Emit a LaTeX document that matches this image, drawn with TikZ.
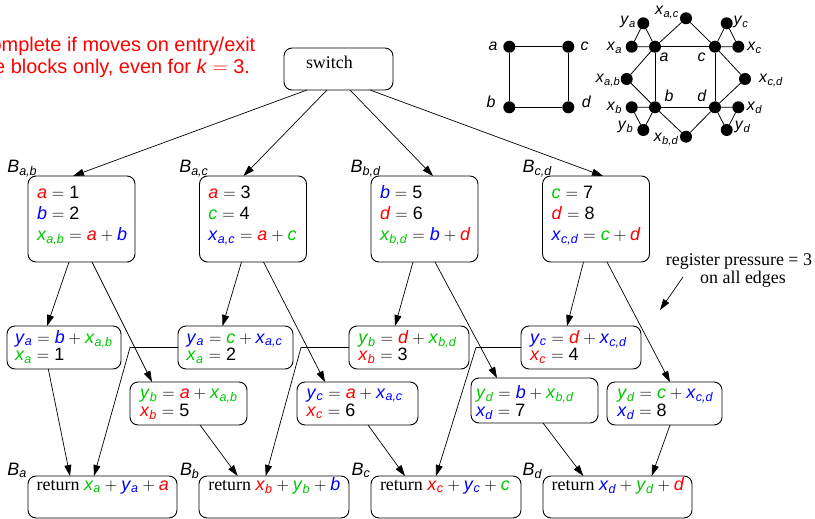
\documentclass[tikz,border=0pt]{standalone}
\usepackage{fontspec}
\setmainfont{Liberation Serif}
\setsansfont{Liberation Sans}
\usetikzlibrary{arrows.meta}

\definecolor{vred}{RGB}{255,0,0}
\definecolor{vgreen}{RGB}{0,200,0}
\definecolor{vblue}{RGB}{0,0,255}

% coloured variables: plain and subscripted
\newcommand\vs[2]{\textcolor{#1}{\textit{#2}}}
\newcommand\vx[3]{\textcolor{#1}{\textit{#2}\textsubscript{\itshape #3}}}
\newcommand\EQ{\hspace{.28em}$=$\hspace{.28em}}
\newcommand\PL{\hspace{.22em}$+$\hspace{.22em}}

\tikzset{
  blk/.style={draw, rounded corners=8bp, line width=0.9pt, inner sep=0pt, outer sep=0pt},
  tx/.style={anchor=base west, inner sep=0pt, outer sep=0pt, font=\sffamily\fontsize{18}{21}\selectfont},
  rtx/.style={anchor=base west, inner sep=0pt, outer sep=0pt, font=\rmfamily\fontsize{18}{21}\selectfont},
  redtx/.style={anchor=base east, inner sep=0pt, outer sep=0pt, text=vred, font=\sffamily\fontsize{20}{22}\selectfont},
  arr/.style={line width=0.7pt, -{Triangle[length=11bp,width=7bp]}},
  gv/.style={circle, fill=black, minimum size=12bp, inner sep=0pt, outer sep=0pt},
  gl/.style={anchor=base, inner sep=0pt, outer sep=0pt, font=\sffamily\fontsize{16}{18}\selectfont},
  ge/.style={line width=0.8pt},
}

\begin{document}
\begin{tikzpicture}[x=1bp,y=-1bp]
\useasboundingbox (0,0) rectangle (815,519);
\clip (0,0) rectangle (815,519);

% ---- caption ----
\node[redtx] (cap1) at (255.3,51.7) {complete if moves on entry/exit};
\node[redtx] (cap2) at (250,73.3) {the blocks only, even for \textit{k}\EQ 3.};

% ---- switch ----
\node[blk, minimum width=109bp, minimum height=42bp] (sw) at (338.5,69) {};
\node[rtx] (swt) at (306,68.3) {switch};

% ---- entry blocks ----
\node[blk, minimum width=107bp, minimum height=86bp] (bab) at (81.5,219) {};
\node[blk, minimum width=107bp, minimum height=86bp] (bac) at (253,219) {};
\node[blk, minimum width=107bp, minimum height=86bp] (bbd) at (424.5,219) {};
\node[blk, minimum width=107bp, minimum height=86bp] (bcd) at (596,219) {};

\node[tx] (lab) at (7.3,172.7) {\vx{black}{B}{a,b}};
\node[tx] (lac) at (179.3,172.7) {\vx{black}{B}{a,c}};
\node[tx] (lbd) at (350.7,172.7) {\vx{black}{B}{b,d}};
\node[tx] (lcd) at (522.7,172.7) {\vx{black}{B}{c,d}};

\node[tx] (ab1) at (37,198.5) {\vs{vred}{a}\EQ 1};
\node[tx] (ab2) at (37,219.5) {\vs{vblue}{b}\EQ 2};
\node[tx] (ab3) at (37,240.5) {\vx{vgreen}{x}{a,b}\EQ\vs{vred}{a}\PL\vs{vblue}{b}};

\node[tx] (ac1) at (208.3,198.5) {\vs{vred}{a}\EQ 3};
\node[tx] (ac2) at (208.3,219.5) {\vs{vgreen}{c}\EQ 4};
\node[tx] (ac3) at (208.3,240.5) {\vx{vblue}{x}{a,c}\EQ\vs{vred}{a}\PL\vs{vgreen}{c}};

\node[tx] (bd1) at (380,198.5) {\vs{vblue}{b}\EQ 5};
\node[tx] (bd2) at (380,219.5) {\vs{vred}{d}\EQ 6};
\node[tx] (bd3) at (380,240.5) {\vx{vgreen}{x}{b,d}\EQ\vs{vblue}{b}\PL\vs{vred}{d}};

\node[tx] (cd1) at (551.7,198.5) {\vs{vgreen}{c}\EQ 7};
\node[tx] (cd2) at (551.7,219.5) {\vs{vred}{d}\EQ 8};
\node[tx] (cd3) at (551.7,240.5) {\vx{vblue}{x}{c,d}\EQ\vs{vgreen}{c}\PL\vs{vred}{d}};

% ---- middle blocks ----
\node[blk, minimum width=114bp, minimum height=43bp] (m1) at (64,347.5) {};
\node[blk, minimum width=115bp, minimum height=43bp] (m2) at (235.5,347.5) {};
\node[blk, minimum width=120bp, minimum height=43bp] (m3) at (409,347.5) {};
\node[blk, minimum width=120bp, minimum height=43bp] (m4) at (581,347.5) {};
\node[blk, minimum width=117bp, minimum height=43bp] (m5) at (188.5,403.5) {};
\node[blk, minimum width=121bp, minimum height=43bp] (m6) at (357.5,403.5) {};
\node[blk, minimum width=127bp, minimum height=45bp] (m7) at (534.5,400.5) {};
\node[blk, minimum width=115bp, minimum height=43bp] (m8) at (664.5,403.5) {};

\node[tx] (m1a) at (15,343.3) {\vx{vblue}{y}{a}\EQ\vs{vblue}{b}\PL\vx{vgreen}{x}{a,b}};
\node[tx] (m1b) at (15,360.5) {\vx{vgreen}{x}{a}\EQ 1};
\node[tx] (m2a) at (186.7,343.3) {\vx{vblue}{y}{a}\EQ\vs{vgreen}{c}\PL\vx{vblue}{x}{a,c}};
\node[tx] (m2b) at (186.7,360.5) {\vx{vgreen}{x}{a}\EQ 2};
\node[tx] (m3a) at (358.3,343.3) {\vx{vgreen}{y}{b}\EQ\vs{vred}{d}\PL\vx{vgreen}{x}{b,d}};
\node[tx] (m3b) at (358.3,360.5) {\vx{vred}{x}{b}\EQ 3};
\node[tx] (m4a) at (530,343.3) {\vx{vblue}{y}{c}\EQ\vs{vred}{d}\PL\vx{vblue}{x}{c,d}};
\node[tx] (m4b) at (530,360.5) {\vx{vred}{x}{c}\EQ 4};
\node[tx] (m5a) at (140,398) {\vx{vgreen}{y}{b}\EQ\vs{vred}{a}\PL\vx{vgreen}{x}{a,b}};
\node[tx] (m5b) at (140,416) {\vx{vred}{x}{b}\EQ 5};
\node[tx] (m6a) at (306.7,398) {\vx{vblue}{y}{c}\EQ\vs{vred}{a}\PL\vx{vblue}{x}{a,c}};
\node[tx] (m6b) at (306.7,416) {\vx{vred}{x}{c}\EQ 6};
\node[tx] (m7a) at (476,398) {\vx{vgreen}{y}{d}\EQ\vs{vblue}{b}\PL\vx{vgreen}{x}{b,d}};
\node[tx] (m7b) at (476,416) {\vx{vblue}{x}{d}\EQ 7};
\node[tx] (m8a) at (617.3,398) {\vx{vgreen}{y}{d}\EQ\vs{vgreen}{c}\PL\vx{vblue}{x}{c,d}};
\node[tx] (m8b) at (617.3,416) {\vx{vblue}{x}{d}\EQ 8};

% ---- exit blocks ----
\node[blk, minimum width=149bp, minimum height=42bp] (ra) at (102.5,497) {};
\node[blk, minimum width=150bp, minimum height=42bp] (rb) at (274,497) {};
\node[blk, minimum width=150bp, minimum height=42bp] (rc) at (446,497) {};
\node[blk, minimum width=149bp, minimum height=42bp] (rd) at (617.5,497) {};

\node[tx] (lra) at (7.3,475) {\vx{black}{B}{a}};
\node[tx] (lrb) at (180,475) {\vx{black}{B}{b}};
\node[tx] (lrc) at (351.7,475) {\vx{black}{B}{c}};
\node[tx] (lrd) at (522.7,475) {\vx{black}{B}{d}};

\node[tx] (rat) at (36.7,490) {\rmfamily return \sffamily\vx{vgreen}{x}{a}\PL\vx{vblue}{y}{a}\PL\vs{vred}{a}};
\node[tx] (rbt) at (208.3,490) {\rmfamily return \sffamily\vx{vred}{x}{b}\PL\vx{vgreen}{y}{b}\PL\vs{vblue}{b}};
\node[tx] (rct) at (380,490) {\rmfamily return \sffamily\vx{vred}{x}{c}\PL\vx{vblue}{y}{c}\PL\vs{vgreen}{c}};
\node[tx] (rdt) at (551.7,490) {\rmfamily return \sffamily\vx{vblue}{x}{d}\PL\vx{vgreen}{y}{d}\PL\vs{vred}{d}};

% ---- edges: switch to entry blocks ----
\draw[arr] ([xshift=-31.5bp]sw.south) -- ([xshift=-8.5bp]bab.north);
\draw[arr] ([xshift=-11.5bp]sw.south) -- ([xshift=-9.5bp]bac.north);
\draw[arr] ([xshift=11.5bp]sw.south) -- ([xshift=8.5bp]bbd.north);
\draw[arr] ([xshift=31.5bp]sw.south) -- ([xshift=7bp]bcd.north);

% ---- edges: entry blocks to middle blocks ----
\draw[arr] ([xshift=-12.5bp]bab.south) -- ([xshift=-17bp]m1.north);
\draw[arr] ([xshift=10.5bp]bab.south) -- ([xshift=-36.5bp]m5.north);
\draw[arr] ([xshift=-11.5bp]bac.south) -- ([xshift=-13bp]m2.north);
\draw[arr] ([xshift=10.5bp]bac.south) -- ([xshift=-32.5bp]m6.north);
\draw[arr] ([xshift=-11.5bp]bbd.south) -- ([xshift=-14bp]m3.north);
\draw[arr] ([xshift=10.5bp]bbd.south) -- ([xshift=-37.5bp]m7.north);
\draw[arr] ([xshift=-12.5bp]bcd.south) -- ([xshift=-14bp]m4.north);
\draw[arr] ([xshift=11bp]bcd.south) -- ([xshift=5.5bp]m8.north);

% ---- edges: middle blocks to exit blocks ----
\coordinate (k2) at (130,347.5);
\coordinate (k3) at (301,347.5);
\coordinate (k4) at (476,347.5);
\draw[arr] ([xshift=-15.7bp]m1.south) -- ([xshift=-32.5bp]ra.north);
\draw[arr] (m2.west) -- (k2) -- ([xshift=-8.5bp]ra.north);
\draw[arr] ([xshift=11.5bp]m5.south) -- ([xshift=-36.3bp]rb.north);
\draw[arr] (m3.west) -- (k3) -- ([xshift=-8.3bp]rb.north);
\draw[arr] ([xshift=10.5bp]m6.south) -- ([xshift=-41bp]rc.north);
\draw[arr] (m4.west) -- (k4) -- ([xshift=-10bp]rc.north);
\draw[arr] ([xshift=8.5bp]m7.south) -- ([xshift=-34.2bp]rd.north);
\draw[arr] ([xshift=5.5bp]m8.south) -- ([xshift=34.2bp]rd.north);

% ---- note on register pressure ----
\node[rtx, anchor=base] (rp1) at (739,266) {register pressure = 3};
\node[rtx, anchor=base] (rp2) at (743,284) {on all edges};
\coordinate (rpa) at (683,277);
\coordinate (rpb) at (660,310);
\draw[arr] (rpa) -- (rpb);

% ---- interference graph: variables only ----
\node[gv] (La) at (509.3,46.7) {};
\node[gv] (Lc) at (568.3,46.7) {};
\node[gv] (Lb) at (509.3,107.3) {};
\node[gv] (Ld) at (568.3,107.3) {};
\draw[ge] (La) -- (Lc) -- (Ld) -- (Lb) -- (La);
\node[gl] (tLa) at (493,50.5) {\textit{a}};
\node[gl] (tLc) at (584.5,50.5) {\textit{c}};
\node[gl] (tLb) at (491,107.5) {\textit{b}};
\node[gl] (tLd) at (586.5,107.5) {\textit{d}};

% ---- interference graph with the move temporaries ----
\node[gv] (Rxac) at (686,18.3) {};
\node[gv] (Rya) at (643.3,23.3) {};
\node[gv] (Ryc) at (726.7,23.3) {};
\node[gv] (Rxa) at (631.7,46.7) {};
\node[gv] (Ra) at (655,46.7) {};
\node[gv] (Rc) at (715,46.7) {};
\node[gv] (Rxc) at (738.3,46.7) {};
\node[gv] (Rxab) at (626.7,79) {};
\node[gv] (Rxcd) at (745,79) {};
\node[gv] (Rxb) at (631.7,107.3) {};
\node[gv] (Rb) at (655,107.3) {};
\node[gv] (Rd) at (715,107.3) {};
\node[gv] (Rxd) at (738.3,107.3) {};
\node[gv] (Ryb) at (643.3,130) {};
\node[gv] (Ryd) at (726.7,130) {};
\node[gv] (Rxbd) at (686,136.7) {};

\draw[ge] (Rya) -- (Rxa) -- (Ra) -- (Rya);
\draw[ge] (Ryc) -- (Rxc) -- (Rc) -- (Ryc);
\draw[ge] (Ryb) -- (Rxb) -- (Rb) -- (Ryb);
\draw[ge] (Ryd) -- (Rxd) -- (Rd) -- (Ryd);
\draw[ge] (Ra) -- (Rc) -- (Rd) -- (Rb) -- (Ra);
\draw[ge] (Ra) -- (Rxac) -- (Rc);
\draw[ge] (Ra) -- (Rxab) -- (Rb);
\draw[ge] (Rc) -- (Rxcd) -- (Rd);
\draw[ge] (Rb) -- (Rxbd) -- (Rd);

\node[gl] (tya) at (628,25) {\vx{black}{y}{a}};
\node[gl] (txac) at (667,15) {\vx{black}{x}{a,c}};
\node[gl] (tyc) at (741,25) {\vx{black}{y}{c}};
\node[gl] (txa) at (614.5,50.7) {\vx{black}{x}{a}};
\node[gl] (tRa) at (664,62) {\textit{a}};
\node[gl] (tRc) at (701.5,62) {\textit{c}};
\node[gl] (txc) at (754.5,50.7) {\vx{black}{x}{c}};
\node[gl] (txab) at (608,83) {\vx{black}{x}{a,b}};
\node[gl] (txcd) at (771,83) {\vx{black}{x}{c,d}};
\node[gl] (txb) at (614.5,110.7) {\vx{black}{x}{b}};
\node[gl] (tRb) at (669,101.7) {\textit{b}};
\node[gl] (tRd) at (702,101.7) {\textit{d}};
\node[gl] (txd) at (754.5,110.7) {\vx{black}{x}{d}};
\node[gl] (tyb) at (625.5,130) {\vx{black}{y}{b}};
\node[gl] (tyd) at (742.5,130) {\vx{black}{y}{d}};
\node[gl] (txbd) at (666,141.7) {\vx{black}{x}{b,d}};
\end{tikzpicture}
\end{document}
